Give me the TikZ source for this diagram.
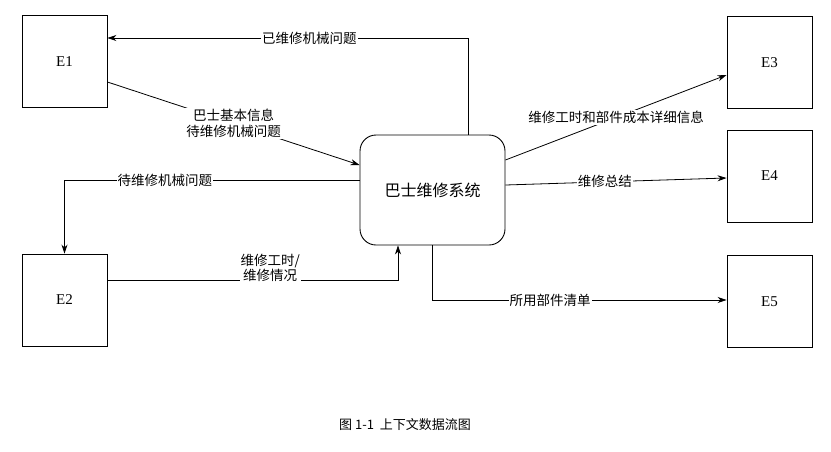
\documentclass[tikz,border=0pt]{standalone}
\usepackage{fontspec}
\setmainfont{Liberation Serif}
\newfontfamily\cjk{Noto Sans CJK SC}
\usetikzlibrary{arrows.meta}
\begin{document}
\begin{tikzpicture}[x=1pt,y=-1pt,
  ent/.style={draw,line width=0.9pt,minimum width=85pt,minimum height=92pt,font=\fontsize{15}{17}\selectfont},
  sys/.style={draw,line width=0.9pt,rounded corners=16pt,minimum width=145pt,minimum height=110pt,font=\cjk\fontsize{16}{18}\selectfont},
  flow/.style={-{Stealth[length=9pt,width=6pt]},line width=0.8pt},
  lab/.style={fill=white,inner sep=1pt,font=\cjk\fontsize{13.5}{15.5}\selectfont,align=center}]
\useasboundingbox (0,0) rectangle (831,451);
\node[ent] (e1) at (64.5,61.5) {E1};
\node[ent] (e2) at (64.5,300) {E2};
\node[ent] (e3) at (769.5,62.5) {E3};
\node[ent] (e4) at (769.5,176) {E4};
\node[ent] (e5) at (769.5,301.5) {E5};
\node[sys] (s) at (432.5,190) {巴士维修系统};
\draw[flow] ([xshift=35.5pt]s.north) |- (e1.east |- 0,38) node[lab,pos=0.72] {已维修机械问题};
\draw[flow] (e1.east |- 0,82) -- ([yshift=25pt]s.west) node[lab,pos=0.5] {巴士基本信息\\待维修机械问题};
\draw[flow] ([yshift=10pt]s.west) -| (e2.north) node[lab,pos=0.33] {待维修机械问题};
\draw[flow] (e2.east |- 0,280) -| ([xshift=-34.5pt]s.south) node[lab,pos=0.28,above=-3pt] {维修工时/\\维修情况};
\draw[flow] ([yshift=30pt]s.east) -- (e3.west |- 0,75) node[lab,pos=0.5] {维修工时和部件成本详细信息};
\draw[flow] ([yshift=5pt]s.east) -- (e4.west |- 0,178) node[lab,pos=0.45] {维修总结};
\draw[flow] (s.south) |- (e5.west |- 0,300) node[lab,pos=0.7] {所用部件清单};
\node[font=\cjk\fontsize{13}{15}\selectfont] (cap) at (405,425) {图 1-1\ \ 上下文数据流图};
\end{tikzpicture}
\end{document}
